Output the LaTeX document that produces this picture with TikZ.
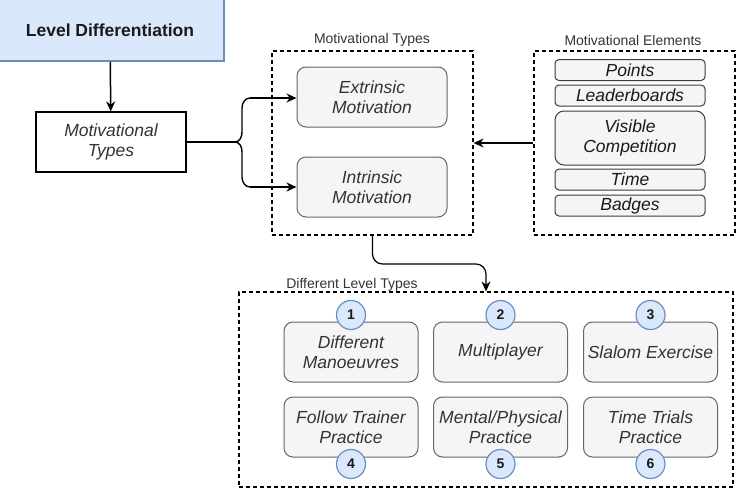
\documentclass[tikz,border=0pt]{standalone}
\usepackage{fontspec}
\setmainfont{Liberation Sans}
\usetikzlibrary{arrows.meta}

\definecolor{bluefill}{HTML}{DAE8FC}
\definecolor{blueline}{HTML}{6C8EBF}
\definecolor{greyfill}{HTML}{F5F5F5}
\definecolor{greyline}{HTML}{666666}
\definecolor{textgrey}{HTML}{333333}
\definecolor{textdark}{HTML}{1A1A1A}

\begin{document}
\begin{tikzpicture}[x=1pt,y=-1pt,
    header/.style={draw=blueline,fill=bluefill,line width=1.5pt,minimum width=228pt,minimum height=62pt,font=\fontsize{17.5}{20}\selectfont\bfseries,text=textdark},
    typebox/.style={draw,line width=1.2pt,fill=white,minimum width=150pt,minimum height=60pt,align=center,font=\fontsize{17.5}{20}\selectfont\itshape,text=textgrey},
    motivation/.style={draw=greyline,fill=greyfill,rounded corners=9pt,line width=1pt,minimum width=150pt,minimum height=60pt,align=center,font=\fontsize{17.5}{20}\selectfont\itshape,text=textgrey},
    element/.style={draw=textdark!85,fill=greyfill,rounded corners=4pt,line width=1pt,minimum width=150pt,minimum height=21pt,inner sep=0pt,align=center,font=\fontsize{17.5}{20}\selectfont\itshape,text=textdark},
    level/.style={motivation,minimum width=134pt},
    number/.style={circle,draw=blueline,fill=bluefill,line width=1.2pt,minimum size=29pt,inner sep=0pt,font=\fontsize{14}{16}\selectfont\bfseries,text=textdark},
    group/.style={draw,dash pattern=on 4pt off 3pt,line width=1.2pt,inner sep=0pt},
    grouplabel/.style={font=\fontsize{14}{16}\selectfont,text=textgrey},
    arrow/.style={-{Stealth[length=10pt,width=9pt]},line width=1.5pt}]

\useasboundingbox (0,0) rectangle (739,496);

% left column
\node[header] (levdiff) at (110,30) {Level Differentiation};
\node[typebox] (mtypes) at (111,142) {Motivational\\Types};
\draw[arrow] (levdiff) -- (mtypes);

% dashed groups
\node[group,minimum width=201pt,minimum height=184pt] (mtgroup) at (372.5,143) {};
\node[grouplabel] (mtlabel) at (372,40) {Motivational Types};
\node[group,minimum width=201pt,minimum height=184pt] (megroup) at (634.5,143) {};
\node[grouplabel] (melabel) at (633,40) {Motivational Elements};
\node[group,minimum width=494pt,minimum height=195pt] (dltgroup) at (486,389.5) {};
\node[grouplabel] (dltlabel) at (352,285) {Different Level Types};

% motivational types
\node[motivation] (extrinsic) at (372,97) {Extrinsic\\Motivation};
\node[motivation] (intrinsic) at (372,187) {Intrinsic\\Motivation};

% motivational elements
\node[element] (points) at (630,70) {Points};
\node[element] (leader) at (630,95.5) {Leaderboards};
\node[element,rounded corners=9pt,minimum height=54pt] (visible) at (630,138) {Visible\\Competition};
\node[element] (time) at (630,179.5) {Time};
\node[element] (badges) at (630,205.5) {Badges};

% brace
\coordinate (bracetip) at (235,142);
\coordinate (bracetop) at (250,98);
\coordinate (bracebot) at (250,187);
\draw[line width=2.4pt] (mtypes.east) -- (bracetip);
\draw[line width=1.4pt] (bracetop) to[out=180,in=90] (242,108) -- (242,132)
    to[out=270,in=0] (bracetip) to[out=0,in=90] (242,152) -- (242,177)
    to[out=270,in=180] (bracebot);
\draw[arrow] (bracetop) -- (bracetop -| extrinsic.west);
\draw[arrow] (bracebot) -- (bracebot -| intrinsic.west);

% elements to types
\draw[arrow] (megroup.west) -- (mtgroup.east);

% types to levels
\coordinate (turn) at (486,264);
\draw[arrow,line width=1.2pt,rounded corners=10pt] (mtgroup.south) |- (turn) -- (dltgroup.north);

% level types
\node[level] (lev1) at (351,352) {Different\\Manoeuvres};
\node[level] (lev2) at (500.5,352) {Multiplayer};
\node[level] (lev3) at (650.5,352) {Slalom Exercise};
\node[level] (lev4) at (351,427) {Follow Trainer\\Practice};
\node[level] (lev5) at (500.5,427) {Mental/Physical\\Practice};
\node[level] (lev6) at (650.5,427) {Time Trials\\Practice};

\node[number] (num1) at (351,315) {1};
\node[number] (num2) at (500.5,315) {2};
\node[number] (num3) at (650.5,315) {3};
\node[number] (num4) at (351,464) {4};
\node[number] (num5) at (500.5,464) {5};
\node[number] (num6) at (650.5,464) {6};
\end{tikzpicture}
\end{document}
